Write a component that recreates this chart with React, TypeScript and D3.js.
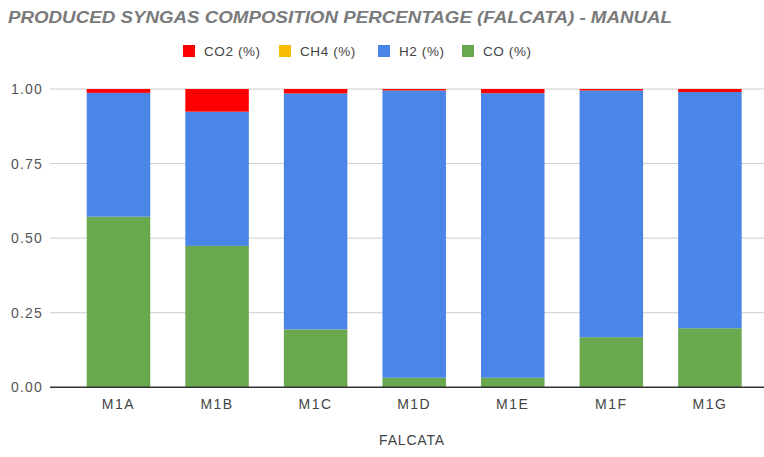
import React from "react";
import * as d3 from "d3";

// Samples and gas fractions (share of total, stacked to 1.0)
const categories = ["M1A", "M1B", "M1C", "M1D", "M1E", "M1F", "M1G"];
const coValues = [0.572, 0.474, 0.194, 0.032, 0.032, 0.168, 0.198];
const h2Values = [0.415, 0.45, 0.791, 0.963, 0.954, 0.827, 0.792];
const ch4Values = [0, 0, 0, 0, 0, 0, 0];
const co2Values = [0.013, 0.076, 0.015, 0.005, 0.014, 0.005, 0.01];
const yTicks = [0, 0.25, 0.5, 0.75, 1];

const seriesKeys = ["CO", "H2", "CH4", "CO2"];
const seriesColors: Record<string, string> = {
  CO2: "#ff0000",
  CH4: "#fbbc04",
  H2: "#4a86e8",
  CO: "#6aa84f",
};
const legendItems = [
  { key: "CO2", label: "CO2 (%)", x: 183 },
  { key: "CH4", label: "CH4 (%)", x: 279 },
  { key: "H2", label: "H2 (%)", x: 378 },
  { key: "CO", label: "CO (%)", x: 462 },
];

const W = 764;
const H = 457;
const FONT = "'Liberation Sans', Arial, sans-serif";

export default function App() {
  const rows = categories.map((c, i) => ({
    cat: c,
    CO: coValues[i],
    H2: h2Values[i],
    CH4: ch4Values[i],
    CO2: co2Values[i],
  }));
  const stacked = d3.stack<any>().keys(seriesKeys)(rows);

  const x = d3
    .scaleBand<string>()
    .domain(categories)
    .range([69.2, 759.2])
    .paddingInner(0.3557)
    .paddingOuter(0.178);
  const y = d3.scaleLinear().domain([0, 1]).range([387.3, 89]);
  const fmt = d3.format(".2f");

  return (
    <svg
      width={W}
      height={H}
      style={{ position: "absolute", left: 0, top: 0, background: "#fff" }}
      fontFamily={FONT}
    >
      <text
        x={8}
        y={23}
        fontSize={16}
        fontWeight="bold"
        fontStyle="italic"
        fill="#7a7a7a"
        textLength={664}
        lengthAdjust="spacingAndGlyphs"
      >
        PRODUCED SYNGAS COMPOSITION PERCENTAGE (FALCATA) - MANUAL
      </text>

      {legendItems.map((d) => (
        <g key={d.key}>
          <rect x={d.x} y={45} width={12} height={12} fill={seriesColors[d.key]} />
          <text x={d.x + 21} y={56} fontSize={13.5} fill="#444" letterSpacing={0.6}>
            {d.label}
          </text>
        </g>
      ))}

      {yTicks.map((t) => (
        <g key={t}>
          {t > 0 && (
            <line x1={50} x2={764} y1={y(t)} y2={y(t)} stroke="#cccccc" strokeWidth={1} />
          )}
          <text
            x={43}
            y={y(t) + 5}
            textAnchor="end"
            fontSize={14}
            fill="#555"
            letterSpacing={1.2}
          >
            {fmt(t)}
          </text>
        </g>
      ))}

      {stacked.map((s) => (
        <g key={s.key} fill={seriesColors[s.key]}>
          {s.map((d, i) =>
            d[1] - d[0] > 0 ? (
              <rect
                key={i}
                x={x(categories[i])}
                width={x.bandwidth()}
                y={y(d[1])}
                height={y(d[0]) - y(d[1])}
              />
            ) : null
          )}
        </g>
      ))}

      <line x1={50} x2={764} y1={y(0)} y2={y(0)} stroke="#333" strokeWidth={1.5} />

      {categories.map((c) => (
        <text
          key={c}
          x={(x(c) as number) + x.bandwidth() / 2}
          y={409}
          textAnchor="middle"
          fontSize={14}
          fill="#444"
          letterSpacing={1.5}
        >
          {c}
        </text>
      ))}

      <text x={412} y={445} textAnchor="middle" fontSize={14} fill="#444" letterSpacing={0.8}>
        FALCATA
      </text>
    </svg>
  );
}
